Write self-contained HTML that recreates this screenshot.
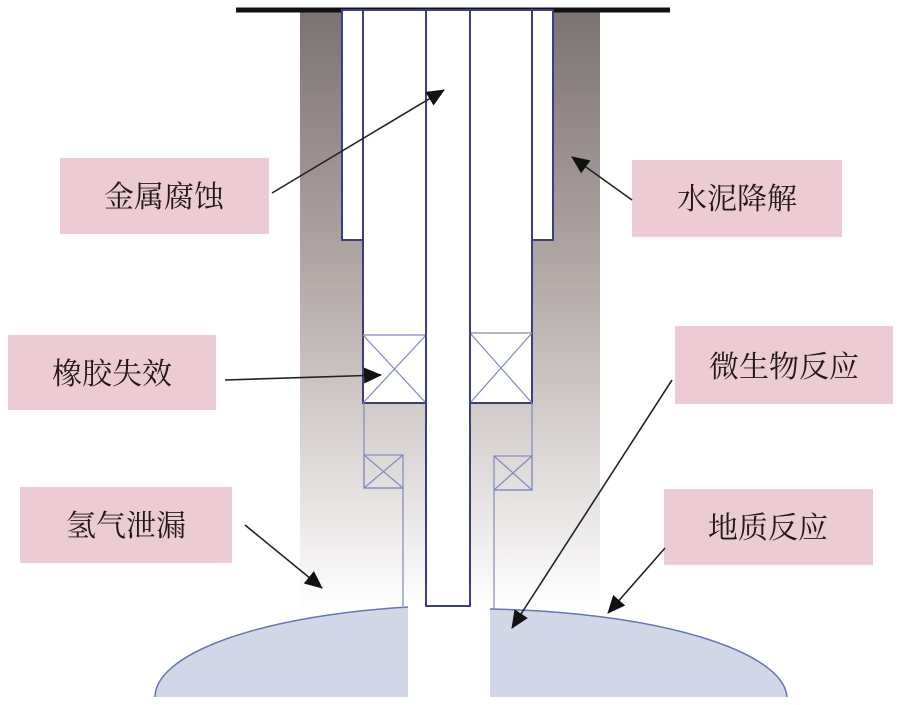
<!DOCTYPE html>
<html><head><meta charset="utf-8"><style>
html,body{margin:0;padding:0;background:#fff;}
svg{display:block;}
text{font-family:"Liberation Serif","Noto Serif CJK SC",serif;font-size:30px;fill:#231815;}
</style></head><body>
<svg width="900" height="705" viewBox="0 0 900 705" xmlns="http://www.w3.org/2000/svg">
<defs>
<linearGradient id="g" x1="0" y1="0" x2="0" y2="1">
<stop offset="0" stop-color="#7b7272"/>
<stop offset="0.45" stop-color="#b4aaa8"/>
<stop offset="1" stop-color="#ffffff"/>
</linearGradient>
<marker id="a" markerWidth="18" markerHeight="16" refX="17" refY="8" orient="auto" markerUnits="userSpaceOnUse" viewBox="0 0 18 16">
<path d="M0,0 L18,8 L0,16 z" fill="#111"/>
</marker>
</defs>
<rect x="300" y="10" width="300" height="600" fill="url(#g)"/>
<rect x="400" y="600" width="100" height="100" fill="#fff"/>
<line x1="236" y1="10" x2="670" y2="10" stroke="#111" stroke-width="5"/>
<rect x="342" y="10" width="211" height="230" fill="#fff" stroke="#3b3f7c" stroke-width="2"/>
<rect x="363" y="10" width="169" height="393" fill="#fff" stroke="#3b3f7c" stroke-width="2"/>
<g stroke="#7f89c0" stroke-width="1.2" fill="none">
<line x1="363" y1="335" x2="426" y2="335"/>
<line x1="363" y1="335" x2="426" y2="403"/><line x1="426" y1="335" x2="363" y2="403"/>
<line x1="470" y1="333" x2="532" y2="333"/>
<line x1="470" y1="333" x2="532" y2="403"/><line x1="532" y1="333" x2="470" y2="403"/>
<polyline points="364,403 364,488 403,488 403,606"/>
<rect x="364" y="455" width="39" height="33"/>
<line x1="364" y1="455" x2="403" y2="488"/><line x1="403" y1="455" x2="364" y2="488"/>
<polyline points="532,403 532,490 494,490 494,610"/>
<rect x="494" y="456" width="38" height="34"/>
<line x1="494" y1="456" x2="532" y2="490"/><line x1="532" y1="456" x2="494" y2="490"/>
</g>
<rect x="426" y="10" width="44" height="596" fill="#fff" stroke="#3b3f7c" stroke-width="2"/>
<path d="M155,697 A316,92 0 0 1 408,607 L408,697 Z" fill="#d2d7e8"/>
<path d="M155,697 A316,92 0 0 1 408,607" fill="none" stroke="#6676b0" stroke-width="1.5"/>
<path d="M490,609 A316,90 0 0 1 787,697 L490,697 Z" fill="#d2d7e8"/>
<path d="M490,609 A316,90 0 0 1 787,697" fill="none" stroke="#6676b0" stroke-width="1.5"/>
<g fill="#edcbd5">
<rect x="60" y="158" width="209" height="76"/>
<rect x="632" y="160" width="210" height="77"/>
<rect x="8" y="335" width="208" height="75"/>
<rect x="675" y="326" width="218" height="78"/>
<rect x="20" y="487" width="212" height="76"/>
<rect x="664" y="489" width="209" height="76"/>
</g>
<text x="164" y="207" text-anchor="middle">金属腐蚀</text>
<text x="737" y="209" text-anchor="middle">水泥降解</text>
<text x="112" y="384" text-anchor="middle">橡胶失效</text>
<text x="784" y="377" text-anchor="middle">微生物反应</text>
<text x="126" y="536" text-anchor="middle">氢气泄漏</text>
<text x="768" y="538" text-anchor="middle">地质反应</text>
<g stroke="#222" stroke-width="1.6" marker-end="url(#a)">
<line x1="272" y1="193" x2="444" y2="90"/>
<line x1="632" y1="200" x2="572" y2="157"/>
<line x1="225" y1="380" x2="381" y2="375"/>
<line x1="672" y1="380" x2="512" y2="628"/>
<line x1="245" y1="525" x2="322" y2="588"/>
<line x1="665" y1="548" x2="608" y2="613"/>
</g>
</svg>
</body></html>
